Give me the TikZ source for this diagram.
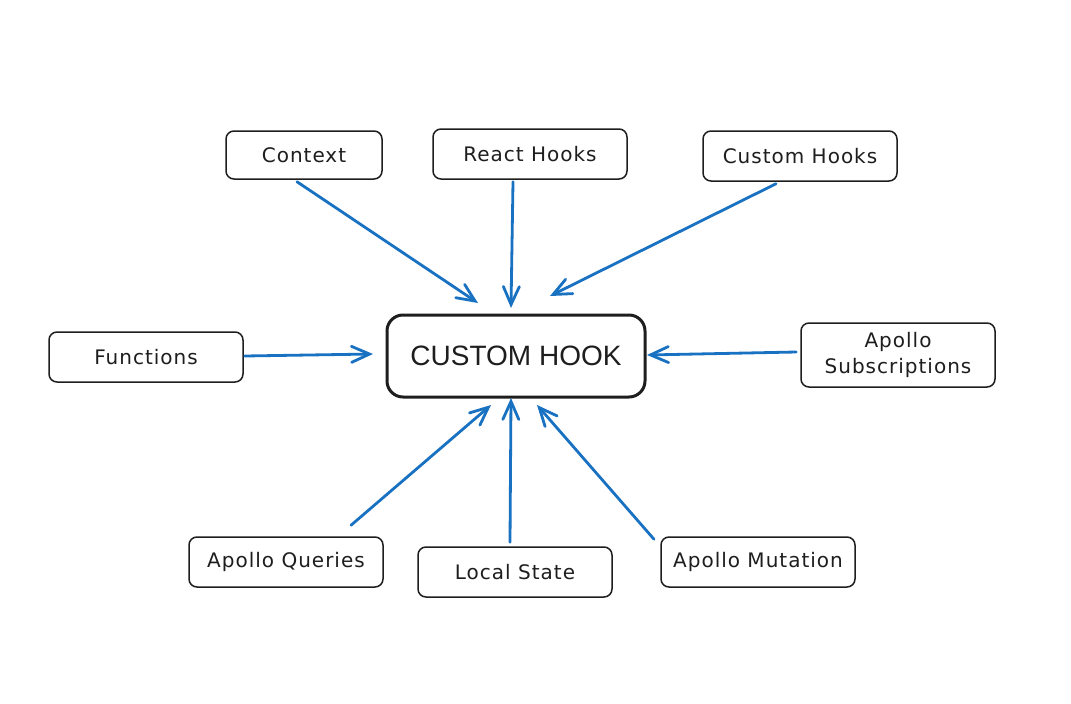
\documentclass[tikz,border=0pt]{standalone}
\usepackage{fontspec}
\setmainfont{Liberation Sans}
\newfontfamily\hand[LetterSpace=5]{DejaVu Sans}
\usetikzlibrary{arrows.meta,calc}
\definecolor{ink}{HTML}{1E1E1E}
\definecolor{arrowblue}{HTML}{1971C2}
\begin{document}
\begin{tikzpicture}[x=1pt,y=-1pt,
  item/.style={draw=ink,line width=1.5pt,rounded corners=8pt,fill=white,
    text=ink,font=\hand\fontsize{20}{26}\selectfont,align=center,
    minimum width=194pt,minimum height=50pt,inner sep=0pt},
  hookbox/.style={draw=ink,line width=3pt,rounded corners=16pt,fill=white,
    text=ink,font=\fontsize{28}{32}\selectfont,
    minimum width=258pt,minimum height=82pt,inner sep=0pt},
  link/.style={draw=arrowblue,line width=2.8pt,line cap=round,
    -{Straight Barb[length=18pt,width=16pt,line cap=round]}}]
\useasboundingbox[fill=white] (0,0) rectangle (1071,704);

\node[hookbox] (hook) at (516,356) {CUSTOM HOOK};

\node[item,minimum width=156pt,minimum height=48pt] (ctx) at (304,155) {Context};
\node[item] (rh) at (530,154) {React Hooks};
\node[item] (ch) at (800,156) {Custom Hooks};
\node[item] (fn) at (146,357) {Functions};
\node[item,minimum height=64pt] (as) at (898,355) {Apollo\\Subscriptions};
\node[item] (aq) at (286,562) {Apollo Queries};
\node[item] (ls) at (515,572) {Local State};
\node[item] (am) at (758,562) {Apollo Mutation};

\coordinate (t1) at (478,303);
\coordinate (t2) at (511,308);
\coordinate (t3) at (550,296);
\coordinate (t4) at (373,354);
\coordinate (t5) at (647,355);
\coordinate (t6) at (491,405);
\coordinate (t7) at (511,398);
\coordinate (t8) at (537,405);

\draw[link] ($(ctx.south)+(-7,2)$) -- (t1);
\draw[link] ($(rh.south)+(-17,2)$) -- (t2);
\draw[link] ($(ch.south)+(-24,2)$) -- (t3);
\draw[link] ($(fn.east)+(1,-1)$) -- (t4);
\draw[link] ($(as.west)+(-4,-3)$) -- (t5);
\draw[link] ($(aq.north)+(65,-11)$) -- (t6);
\draw[link] ($(ls.north)+(-5,-4)$) -- (t7);
\draw[link] ($(am.north)+(-104,3)$) -- (t8);
\end{tikzpicture}
\end{document}
